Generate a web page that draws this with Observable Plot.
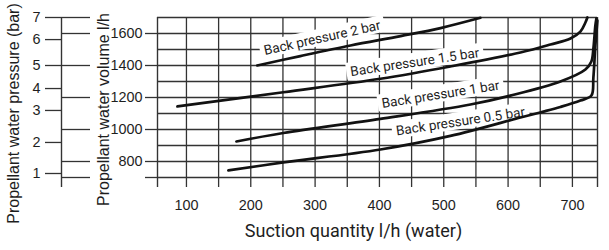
<!DOCTYPE html>
<html><head><meta charset="utf-8">
<script src="https://cdn.jsdelivr.net/npm/d3@7"></script>
<script src="https://cdn.jsdelivr.net/npm/@observablehq/plot@0.6"></script>
<style>body{margin:0;background:#fff}</style>
</head><body>
<script>
// Axis ticks / grid values
const suctionTicks = [100, 200, 300, 400, 500, 600, 700];
const suctionGrid = [100, 150, 200, 250, 300, 350, 400, 450, 500, 550, 600, 650, 700];
const volumeTicks = [800, 1000, 1200, 1400, 1600];
const volumeGrid = [700, 800, 900, 1000, 1100, 1200, 1300, 1400, 1500, 1600, 1700];
const volumeLongTicks = [700, 800, 1000, 1200, 1400, 1600];
const pressureTicks = [1, 2, 3, 4, 5, 6, 7];
const pressureAtVolume = [725, 919, 1119, 1256, 1400, 1562, 1700];
const pressureSideTicks = [700, 800, 1000, 1200, 1400, 1600, 1700];

// Curves (suction l/h, propellant volume l/h)
const suction2bar = [210, 277, 355, 433, 495, 557];
const volume2bar = [1400, 1459, 1525, 1584, 1634, 1698];
const suction15bar = [86, 250.6, 401.5, 510.3, 619.2, 665.9, 697, 712.4, 720.2, 723.3];
const volume15bar = [1144, 1233, 1317, 1394, 1481, 1531, 1569, 1612, 1669, 1700];
const suction1bar = [177.7, 250.6, 401.5, 541.4, 603.6, 681.3, 720.2, 729.5, 732.6, 735.7, 737.3];
const volume1bar = [925, 978, 1066, 1156, 1212, 1300, 1375, 1425, 1506, 1650, 1694];
const suction05bar = [165.2, 250.6, 401.5, 510.3, 619.2, 655, 681.3, 712.4, 729.5, 732.6, 735.7, 738.8];
const volume05bar = [744, 794, 875, 960, 1075, 1112, 1141, 1181, 1212, 1325, 1525, 1681];

// Curve labels
const labelTexts = ["Back pressure 2 bar", "Back pressure 1.5 bar", "Back pressure 1 bar", "Back pressure 0.5 bar"];
const labelSuction = [311, 455, 495, 526];
const labelVolume = [1572, 1420, 1219, 1050];
const labelAngle = [-12.5, -8.5, -9, -8.5];

const series = [
  ["2 bar", suction2bar, volume2bar],
  ["1.5 bar", suction15bar, volume15bar],
  ["1 bar", suction1bar, volume1bar],
  ["0.5 bar", suction05bar, volume05bar]
];
const rows = series.flatMap(([name, xs, ys]) => xs.map((s, i) => ({name, s, v: ys[i]})));

const xDomain = [55, 739];
const yDomain = [700, 1700];
const gridColor = "#333";
const textColor = "#1e1e1e";
const sansA = "'Liberation Sans', Arial, sans-serif";
const sansB = "Roboto, 'Noto Sans', sans-serif";

const svg = Plot.plot({
  width: 609,
  height: 250,
  marginLeft: 157,
  marginRight: 12,
  marginTop: 17,
  marginBottom: 73,
  x: {domain: xDomain, axis: null},
  y: {domain: yDomain, axis: null},
  style: {background: "white", color: textColor},
  marks: [
    // vertical grid + ticks below
    Plot.ruleX(suctionGrid, {x: d => d, insetBottom: -10, stroke: gridColor, strokeWidth: 1.3}),
    Plot.ruleX(xDomain, {x: d => d, insetBottom: -10, stroke: gridColor, strokeWidth: 1.4}),
    // horizontal grid
    Plot.ruleY(volumeGrid, {y: d => d, stroke: gridColor, strokeWidth: 1.3}),
    Plot.ruleY(volumeLongTicks, {y: d => d, insetLeft: -12, insetRight: 440, stroke: gridColor, strokeWidth: 1.3}),
    // pressure axis
    Plot.ruleX([xDomain[0]], {x: d => d, dx: -96, insetBottom: -10, stroke: gridColor, strokeWidth: 1.4}),
    Plot.ruleY(pressureAtVolume, {y: d => d, insetLeft: -112, insetRight: 536, stroke: gridColor, strokeWidth: 1.3}),
    Plot.ruleY(pressureSideTicks, {y: d => d, insetLeft: -96, insetRight: 507, stroke: gridColor, strokeWidth: 1.3}),
    // tick labels
    Plot.text(suctionTicks, {x: d => d, text: d => String(d), frameAnchor: "bottom", dy: 32.5, fontSize: 14.4, fontFamily: sansA, fill: textColor}),
    Plot.text(volumeTicks, {y: d => d, text: d => String(d), frameAnchor: "left", dx: -15, textAnchor: "end", fontSize: 14.4, fontFamily: sansA, fill: textColor}),
    Plot.text(pressureTicks, {y: (d, i) => pressureAtVolume[i], text: d => String(d), frameAnchor: "left", dx: -117, textAnchor: "end", fontSize: 14.4, fontFamily: sansA, fill: textColor}),
    // axis titles
    Plot.text(["Propellant water pressure (bar)"], {frameAnchor: "left", textAnchor: "middle", dx: -143.5, dy: 16, rotate: -90, fontSize: 16, fontFamily: sansA, fill: textColor}),
    Plot.text(["Propellant water volume l/h"], {frameAnchor: "left", textAnchor: "middle", dx: -53.5, dy: 12, rotate: -90, fontSize: 16, fontFamily: sansA, fill: textColor}),
    Plot.text(["Suction quantity l/h (water)"], {frameAnchor: "bottom", textAnchor: "middle", dx: -24, dy: 59, fontSize: 18, fontFamily: sansB, fill: textColor}),
    // curve labels
    Plot.text(labelTexts, {
      x: (d, i) => labelSuction[i], y: (d, i) => labelVolume[i], rotate: (d, i) => labelAngle[i],
      text: d => d, fontSize: 13.5, fontFamily: sansB, fill: textColor
    }),
    // curves
    Plot.line(rows, {x: "s", y: "v", z: "name", curve: "catmull-rom", stroke: "#121212", strokeWidth: 2.7})
  ]
});
document.body.append(svg);

// white boxes behind curve labels
const ns = "http://www.w3.org/2000/svg";
for (const t of Array.from(svg.querySelectorAll("text"))) {
  if (!labelTexts.includes(t.textContent)) continue;
  const b = t.getBBox();
  const r = document.createElementNS(ns, "rect");
  r.setAttribute("x", b.x - 4);
  r.setAttribute("y", b.y - 1);
  r.setAttribute("width", b.width + 8);
  r.setAttribute("height", b.height + 1);
  r.setAttribute("fill", "white");
  const tr = t.getAttribute("transform");
  if (tr) r.setAttribute("transform", tr);
  t.parentNode.insertBefore(r, t);
}
</script>
</body></html>
